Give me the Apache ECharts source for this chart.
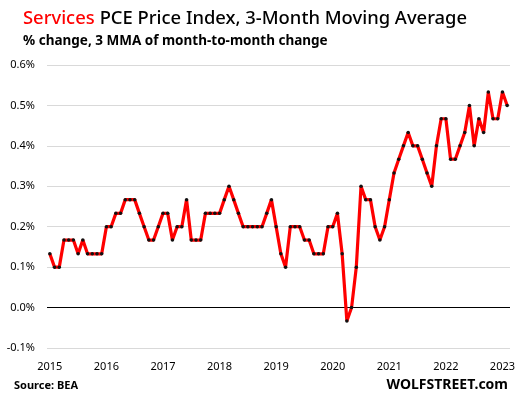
<!DOCTYPE html>
<html>
<head>
<meta charset="utf-8">
<script src="https://cdn.jsdelivr.net/npm/echarts@6/dist/echarts.min.js"></script>
<style>
  html, body { margin: 0; padding: 0; background: #fff; }
  #chart { width: 521px; height: 398px; }
</style>
</head>
<body>
<div id="chart"></div>
<script>
// 3-month moving average of services PCE, monthly, Jan 2015 - Feb 2023 (%)
var values2015 = [0.133, 0.1, 0.1, 0.167, 0.167, 0.167, 0.133, 0.167, 0.133, 0.133, 0.133, 0.133];
var values2016 = [0.2, 0.2, 0.233, 0.233, 0.267, 0.267, 0.267, 0.233, 0.2, 0.167, 0.167, 0.2];
var values2017 = [0.233, 0.233, 0.167, 0.2, 0.2, 0.267, 0.167, 0.167, 0.167, 0.233, 0.233, 0.233];
var values2018 = [0.233, 0.267, 0.3, 0.267, 0.233, 0.2, 0.2, 0.2, 0.2, 0.2, 0.233, 0.267];
var values2019 = [0.2, 0.133, 0.1, 0.2, 0.2, 0.2, 0.167, 0.167, 0.133, 0.133, 0.133, 0.2];
var values2020 = [0.2, 0.233, 0.133, -0.033, 0, 0.1, 0.3, 0.267, 0.267, 0.2, 0.167, 0.2];
var values2021 = [0.267, 0.333, 0.367, 0.4, 0.433, 0.4, 0.4, 0.367, 0.333, 0.3, 0.4, 0.467];
var values2022 = [0.467, 0.367, 0.367, 0.4, 0.433, 0.5, 0.4, 0.467, 0.433, 0.533, 0.467, 0.467];
var values2023 = [0.533, 0.5];

var yearLabels = ['2015', '2016', '2017', '2018', '2019', '2020', '2021', '2022', '2023'];

var values = [].concat(values2015, values2016, values2017, values2018, values2019,
                       values2020, values2021, values2022, values2023);
var seriesData = values.map(function (v, i) { return [i, v]; });
var yearTicks = yearLabels.map(function (y, k) { return k * 12; });

var font = 'Noto Sans';
var myChart = echarts.init(document.getElementById('chart'));

var option = {
  animation: false,
  backgroundColor: '#fff',
  title: {
    left: 18,
    top: 5,
    text: '{r|Services} {k|PCE Price Index, 3-Month Moving Average}',
    textStyle: {
      rich: {
        r: { color: '#ff0000', fontFamily: font, fontSize: 18.4, fontWeight: 500 },
        k: { color: '#000', fontFamily: font, fontSize: 18.4, fontWeight: 500 }
      }
    },
    subtext: '% change, 3 MMA of month-to-month change',
    subtextStyle: { color: '#000', fontFamily: font, fontSize: 13.5, fontWeight: 'bold' },
    itemGap: 6
  },
  grid: { left: 47, right: 11, top: 65, bottom: 50 },
  xAxis: {
    type: 'value',
    min: -0.6,
    max: 97.6,
    splitLine: { show: false },
    axisLine: { show: false },
    axisTick: { show: false },
    axisLabel: {
      customValues: yearTicks,
      formatter: function (v) { return yearLabels[Math.round(v / 12)]; },
      color: '#000',
      fontFamily: font,
      fontSize: 11,
      margin: 13
    }
  },
  yAxis: {
    type: 'value',
    min: -0.1,
    max: 0.6,
    interval: 0.1,
    axisLine: { show: false },
    axisTick: { show: false },
    splitLine: { lineStyle: { color: '#d9d9d9', width: 1 } },
    axisLabel: {
      formatter: function (v) { return v.toFixed(1) + '%'; },
      color: '#000',
      fontFamily: font,
      fontSize: 11,
      margin: 12
    }
  },
  series: [{
    type: 'line',
    data: seriesData,
    symbol: 'circle',
    symbolSize: 3.5,
    showAllSymbol: true,
    itemStyle: { color: '#111' },
    lineStyle: { color: '#ff0000', width: 3.2 },
    z: 3,
    markLine: {
      silent: true,
      symbol: 'none',
      label: { show: false },
      lineStyle: { color: '#000', width: 1, type: 'solid' },
      data: [{ yAxis: 0 }],
      z: 1
    }
  }],
  graphic: [
    {
      type: 'text', left: 14, top: 380,
      style: { text: 'Source: BEA', fill: '#000', font: 'bold 11px "Noto Sans"' }
    },
    {
      type: 'text', right: 13, top: 378,
      style: { text: 'WOLFSTREET.com', fill: '#000', font: 'bold 14px "Noto Sans"' }
    }
  ]
};

myChart.setOption(option);
window.addEventListener('resize', function () { myChart.resize(); });
</script>
</body>
</html>
